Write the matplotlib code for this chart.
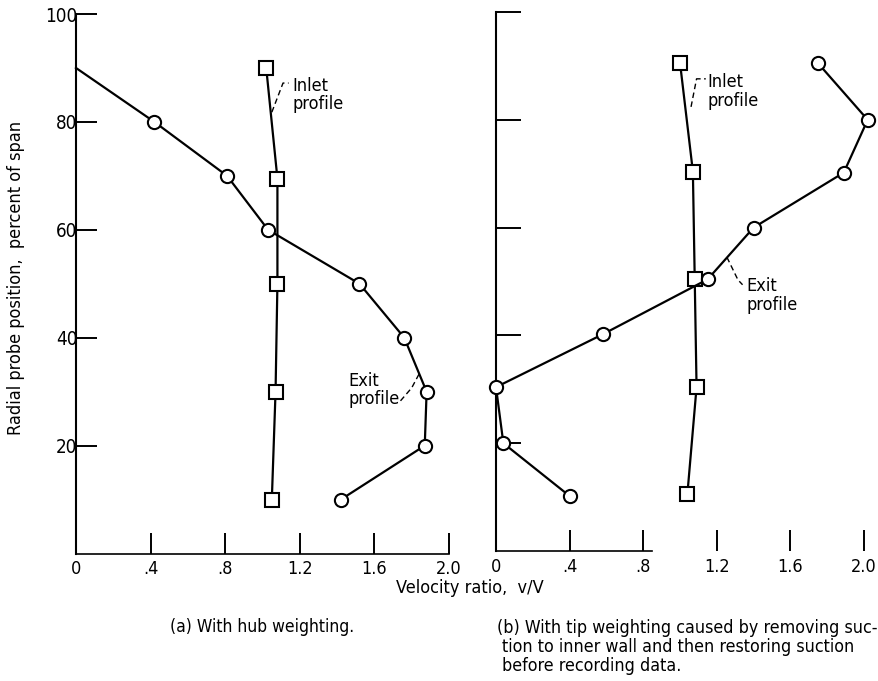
import matplotlib
matplotlib.use("Agg")
import matplotlib.pyplot as plt

plt.rcParams['font.family'] = ['DejaVu Sans']
plt.rcParams['font.stretch'] = 'condensed'

# (a) hub weighting
a_inlet_v = [1.02, 1.08, 1.08, 1.07, 1.05]
a_inlet_y = [90, 69.5, 50, 30, 10]
a_exit_v = [0.0, 0.42, 0.81, 1.03, 1.52, 1.76, 1.88, 1.87, 1.42]
a_exit_y = [90, 80, 70, 60, 50, 40, 30, 20, 10]

# (b) tip weighting
b_inlet_v = [1.00, 1.07, 1.08, 1.09, 1.04]
b_inlet_y = [90.6, 70.4, 50.5, 30.4, 10.5]
b_exit_v = [1.75, 2.02, 1.89, 1.40, 1.15, 0.58, 0.0, 0.04, 0.40]
b_exit_y = [90.5, 80, 70.2, 60, 50.4, 40.2, 30.4, 20, 10.2]

xticks = [0, 0.4, 0.8, 1.2, 1.6, 2.0]
xticklabels = ['0', '.4', '.8', '1.2', '1.6', '2.0']
yticks = [20, 40, 60, 80, 100]

W, H = 879, 681
fig = plt.figure(figsize=(W / 100, H / 100), dpi=100)
axa = fig.add_axes([76 / W, 1 - 553.5 / H, 2.1 * 186.5 / W, 539.5 / H])
axb = fig.add_axes([496 / W, 1 - 551 / H, 2.08 * 184 / W, 539 / H])

mk = dict(color='black', lw=1.6, markerfacecolor='white', markeredgecolor='black',
          markeredgewidth=1.5, markersize=9.5, clip_on=False, zorder=3)

for ax in (axa, axb):
    ax.set_ylim(0, 100)
    for s in ('top', 'right'):
        ax.spines[s].set_visible(False)
    ax.spines['left'].set_linewidth(1.5)
    ax.spines['bottom'].set_linewidth(1.2)
    ax.set_xticks(xticks)
    ax.set_xticklabels(xticklabels, fontsize=13)
    ax.set_yticks(yticks)
    ax.tick_params(axis='x', direction='in', length=15, width=1.4, pad=5)
    ax.tick_params(axis='y', direction='in', width=1.4, pad=-1)
    ax.xaxis.get_major_ticks()[0].tick1line.set_visible(False)

axa.set_xlim(0, 2.1)
axb.set_xlim(0, 2.08)
axa.tick_params(axis='y', length=15, labelsize=13.5)
axb.tick_params(axis='y', length=18, labelleft=False)
axa.spines['bottom'].set_bounds(0, 2.0)
axb.spines['bottom'].set_bounds(0, 0.85)

axa.plot(a_inlet_v, a_inlet_y, marker='s', **mk)
axa.plot(a_exit_v, a_exit_y, marker='o', markevery=list(range(1, len(a_exit_v))), **mk)
axb.plot(b_inlet_v, b_inlet_y, marker='s', **mk)
axb.plot(b_exit_v, b_exit_y, marker='o', **mk)

lead = dict(color='black', lw=1.0, ls=(0, (4, 2.5)))
txt = dict(fontsize=13, ha='left', va='center', linespacing=1.05)

axa.plot([1.05, 1.11, 1.14], [81.8, 87.2, 87.2], **lead)
axa.text(1.16, 85.0, 'Inlet\nprofile', **txt)
axa.plot([1.74, 1.80, 1.84], [28.3, 30.7, 33.3], **lead)
axa.text(1.46, 30.3, 'Exit\nprofile', **txt)

axb.plot([1.06, 1.09, 1.14], [82.4, 87.6, 87.6], **lead)
axb.text(1.15, 85.2, 'Inlet\nprofile', **txt)
axb.plot([1.255, 1.315, 1.34], [54.5, 50.3, 49.4], **lead)
axb.text(1.36, 47.4, 'Exit\nprofile', **txt)

fig.text(16 / W, 1 - 278 / H, 'Radial probe position,  percent of span',
         rotation=90, ha='center', va='center', fontsize=13)
fig.text(470 / W, 1 - 588 / H, 'Velocity ratio,  v/V', ha='center', va='center', fontsize=13)

fig.text(170 / W, 1 - 627 / H, '(a) With hub weighting.', ha='left', va='center', fontsize=12.5)
fig.text(497 / W, 1 - 628 / H, '(b) With tip weighting caused by removing suc-',
         ha='left', va='center', fontsize=12.8)
fig.text(502 / W, 1 - 647 / H, 'tion to inner wall and then restoring suction',
         ha='left', va='center', fontsize=12.8)
fig.text(502 / W, 1 - 666 / H, 'before recording data.', ha='left', va='center', fontsize=12.8)

fig.savefig('out.png', dpi=100)
